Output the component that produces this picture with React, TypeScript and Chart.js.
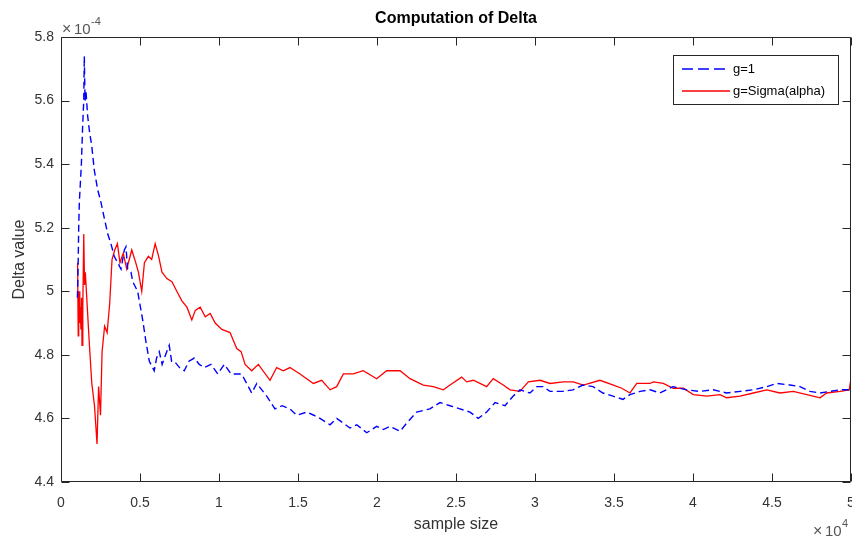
import React, { useEffect, useRef } from "react";
import { Chart, registerables } from "chart.js";

Chart.register(...registerables);

const chartTitle = "Computation of Delta";
const xAxisTitle = "sample size";
const yAxisTitle = "Delta value";
const seriesNames = ["g=1", "g=Sigma(alpha)"];

// x: sample size, y: Delta value in units of 1e-4
const xTickValues = [0, 5000, 10000, 15000, 20000, 25000, 30000, 35000, 40000, 45000, 50000];
const yTickValues = [4.4, 4.6, 4.8, 5.0, 5.2, 5.4, 5.6, 5.8];

const blueSampleSize = [
  1040, 1090, 1120, 1160, 1290, 1370, 1440, 1475, 1520, 1580, 1690, 1810, 1940, 2110, 2320, 2530, 2740,
  2960, 3160, 3370, 3690, 3800, 4010, 4110, 4220, 4430, 4540, 4850, 5170, 5380, 5590, 5900, 6050,
  6220, 6400, 6540, 6850, 7000, 7170, 7500, 7800, 8100, 8440, 8750, 9070, 9490, 9920, 10340, 10760,
  11390, 11540, 12070, 12390, 13020, 13540, 14000, 14490, 14920, 15550, 16000, 16390, 17030, 17450,
  18290, 18720, 19350, 19980, 20400, 20820, 21460, 21880, 22510, 23350, 23990, 24620, 25250, 25890,
  26410, 26940, 27470, 28100, 28610, 29050, 29680, 30110, 30510, 30950, 31770, 32410, 33040, 33670,
  34300, 34940, 35570, 36010, 36650, 37280, 37910, 38730, 39600, 40440, 41270, 42130, 42980, 43800,
  44670, 45300, 46140, 46770, 47410, 48040, 48670, 49300, 50000,
];
const blueDelta = [
  4.98, 5.1, 5.2, 5.28, 5.4, 5.52, 5.6, 5.74, 5.6, 5.63, 5.55, 5.5, 5.46, 5.38, 5.32, 5.28, 5.23,
  5.18, 5.15, 5.11, 5.08, 5.07, 5.13, 5.14, 5.07, 5.06, 5.03, 5.0, 4.91, 4.84, 4.78, 4.75, 4.79,
  4.81, 4.77, 4.79, 4.83, 4.78, 4.78, 4.76, 4.75, 4.78, 4.79, 4.77, 4.76, 4.77, 4.74, 4.77, 4.74,
  4.74, 4.73, 4.68, 4.71, 4.67, 4.63, 4.64, 4.63, 4.61, 4.62, 4.61, 4.6, 4.58, 4.6,
  4.57, 4.58, 4.555, 4.575, 4.565, 4.575, 4.56, 4.585, 4.62, 4.63, 4.65, 4.64, 4.63, 4.62,
  4.6, 4.62, 4.65, 4.64, 4.67, 4.69, 4.68, 4.7, 4.7, 4.685, 4.685, 4.69, 4.705, 4.7,
  4.68, 4.67, 4.66, 4.675, 4.685, 4.69, 4.68, 4.7, 4.69, 4.685, 4.69, 4.68, 4.685, 4.69,
  4.7, 4.71, 4.705, 4.7, 4.685, 4.68, 4.685, 4.69, 4.69,
];

const redSampleSize = [
  1050, 1090, 1120, 1160, 1190, 1220, 1260, 1300, 1330, 1380, 1440, 1490, 1540, 1640, 1800, 1950, 2120,
  2280, 2380, 2500, 2600, 2760,
  2920, 3080, 3230, 3400, 3570, 3730, 3940, 4160, 4480, 4730, 4900, 5110, 5280, 5530, 5740, 5960,
  6180, 6390, 6700, 7020, 7330, 7650, 7970, 8280, 8500, 8810, 9130, 9440, 9760, 10180, 10700, 11120,
  11400, 11650, 12070, 12490, 13230, 13650, 14070, 14490, 15130, 15970, 16500, 17030, 17450, 17870,
  18500, 19130, 19980, 20610, 21460, 22090, 22930, 23560, 24200, 24620, 25360, 25680, 26100, 26940,
  27360, 27990, 28420, 29050, 29580, 30320, 30950, 31790, 32420, 33060, 34110, 34960, 35490, 36010,
  36440, 37280, 37490, 38120, 38750, 39390, 40020, 40870, 41710, 42130, 42980, 43820, 44670, 45510,
  46350, 47200, 48040, 48460, 49300, 49890, 49980,
];
const redDelta = [
  5.09, 4.86, 4.98, 5.0, 4.9, 4.95, 4.88, 4.98, 4.83, 4.95, 5.18, 5.02, 5.06, 4.97, 4.83, 4.71, 4.64,
  4.52, 4.7, 4.61, 4.81, 4.89,
  4.87, 4.96, 5.1, 5.13, 5.15, 5.09, 5.12, 5.07, 5.13, 5.09, 5.06, 5.0, 5.09, 5.11, 5.1, 5.15,
  5.11, 5.06, 5.04, 5.03, 5.0, 4.97, 4.95, 4.91, 4.94, 4.95, 4.92, 4.93, 4.9, 4.88, 4.87, 4.82,
  4.81, 4.77, 4.75, 4.77, 4.72, 4.76, 4.75, 4.76, 4.74, 4.71, 4.72, 4.69, 4.7, 4.74,
  4.74, 4.75, 4.725, 4.75, 4.75, 4.725, 4.705, 4.7, 4.69, 4.705, 4.73, 4.715, 4.72, 4.7,
  4.725, 4.705, 4.69, 4.685, 4.715, 4.72, 4.71, 4.715, 4.715, 4.705, 4.72, 4.705, 4.695, 4.68,
  4.71, 4.71, 4.715, 4.71, 4.695, 4.695, 4.675, 4.67, 4.675, 4.665, 4.67, 4.68, 4.69, 4.68,
  4.685, 4.675, 4.665, 4.68, 4.685, 4.69, 4.72,
];

const AXIS = "#262626";
const TEXT = "#333333";
const FONT = "'Liberation Sans', Arial, sans-serif";

const decorPlugin = {
  id: "decor",
  afterDatasetsDraw(chart: any) {
    const { ctx, chartArea: a, scales } = chart;
    const xs = scales.x;
    const ys = scales.y;
    const L = Math.round(a.left) + 0.5;
    const R = Math.round(a.right) - 0.5;
    const T = Math.round(a.top) + 0.5;
    const B = Math.round(a.bottom) - 0.5;
    ctx.save();
    ctx.strokeStyle = AXIS;
    ctx.lineWidth = 1;
    ctx.setLineDash([]);
    ctx.beginPath();
    ctx.moveTo(L, T);
    ctx.lineTo(R, T);
    ctx.lineTo(R, B);
    ctx.lineTo(L, B);
    ctx.closePath();
    ctx.stroke();
    const tl = 8;
    ctx.beginPath();
    xTickValues.forEach((v) => {
      const px = Math.round(xs.getPixelForValue(v)) + 0.5;
      ctx.moveTo(px, B);
      ctx.lineTo(px, B - tl);
      ctx.moveTo(px, T);
      ctx.lineTo(px, T + tl);
    });
    yTickValues.forEach((v) => {
      const py = Math.round(ys.getPixelForValue(v)) + 0.5;
      ctx.moveTo(L, py);
      ctx.lineTo(L + tl, py);
      ctx.moveTo(R, py);
      ctx.lineTo(R - tl, py);
    });
    ctx.stroke();

    // legend
    const lx = 673.5, ly = 55.5, lw = 165, lh = 49;
    ctx.fillStyle = "#ffffff";
    ctx.fillRect(lx, ly, lw, lh);
    ctx.strokeStyle = AXIS;
    ctx.strokeRect(lx, ly, lw, lh);

    ctx.lineWidth = 1.5;
    ctx.strokeStyle = "rgb(0,0,255)";
    ctx.setLineDash([11, 5]);
    ctx.beginPath();
    ctx.moveTo(682, 69);
    ctx.lineTo(730, 69);
    ctx.stroke();
    ctx.setLineDash([]);
    ctx.strokeStyle = "rgb(255,0,0)";
    ctx.beginPath();
    ctx.moveTo(682, 91);
    ctx.lineTo(730, 91);
    ctx.stroke();

    ctx.fillStyle = "#000000";
    ctx.font = `13px ${FONT}`;
    ctx.textAlign = "left";
    ctx.textBaseline = "middle";
    ctx.fillText(seriesNames[0], 733, 69);
    ctx.fillText(seriesNames[1], 733, 91);

    // title
    ctx.fillStyle = "#000000";
    ctx.font = `bold 16px ${FONT}`;
    ctx.textAlign = "center";
    ctx.fillText(chartTitle, (a.left + a.right) / 2, 19);

    // axis titles
    ctx.fillStyle = TEXT;
    ctx.font = `16px ${FONT}`;
    ctx.fillText(xAxisTitle, (a.left + a.right) / 2, 525);
    ctx.save();
    ctx.translate(20, (a.top + a.bottom) / 2);
    ctx.rotate(-Math.PI / 2);
    ctx.fillText(yAxisTitle, 0, 0);
    ctx.restore();

    // exponent labels
    ctx.textAlign = "left";
    ctx.textBaseline = "alphabetic";
    ctx.fillStyle = "#555555";
    ctx.font = `16px ${FONT}`;
    ctx.fillText("\u00d7", 62, 34);
    ctx.font = `15px ${FONT}`;
    ctx.fillText("10", 74, 34);
    ctx.font = `11px ${FONT}`;
    ctx.fillText("-4", 91, 25);

    ctx.font = `16px ${FONT}`;
    ctx.fillText("\u00d7", 813, 536);
    ctx.font = `15px ${FONT}`;
    ctx.fillText("10", 825, 536);
    ctx.font = `11px ${FONT}`;
    ctx.fillText("4", 842, 527);
    ctx.restore();
  },
};

export default function App() {
  const ref = useRef<HTMLCanvasElement | null>(null);
  useEffect(() => {
    if (!ref.current) return;
    const chart = new Chart(ref.current, {
      type: "line",
      data: {
        datasets: [
          {
            label: seriesNames[0],
            data: blueSampleSize.map((x, i) => ({ x, y: blueDelta[i] })),
            borderColor: "#0000ff",
            borderWidth: 1.4,
            borderDash: [7, 4],
            pointRadius: 0,
            tension: 0,
            fill: false,
          },
          {
            label: seriesNames[1],
            data: redSampleSize.map((x, i) => ({ x, y: redDelta[i] })),
            borderColor: "#ff0000",
            borderWidth: 1.3,
            pointRadius: 0,
            tension: 0,
            fill: false,
          },
        ],
      },
      options: {
        animation: false,
        responsive: false,
        devicePixelRatio: 1,
        layout: { padding: { top: 37, right: 1, left: 0, bottom: 0 } },
        plugins: {
          legend: { display: false },
          title: { display: false },
          tooltip: { enabled: false },
        },
        scales: {
          x: {
            type: "linear",
            min: 0,
            max: 50000,
            afterFit: (s: any) => {
              s.height = 57;
              s.paddingLeft = 0;
              s.paddingRight = 0;
            },
            afterBuildTicks: (s: any) => {
              s.ticks = xTickValues.map((value) => ({ value }));
            },
            ticks: {
              callback: (v: any) => String(Math.round((Number(v) / 10000) * 10) / 10),
              font: { family: FONT, size: 14 },
              color: TEXT,
              padding: 13,
              maxRotation: 0,
              autoSkip: false,
            },
            grid: { display: false, drawTicks: false },
            border: { display: false },
          },
          y: {
            type: "linear",
            min: 4.4,
            max: 5.8,
            afterFit: (s: any) => {
              s.width = 61;
              s.paddingTop = 0;
              s.paddingBottom = 0;
            },
            afterBuildTicks: (s: any) => {
              s.ticks = yTickValues.map((value) => ({ value }));
            },
            ticks: {
              callback: (v: any) => String(Math.round(Number(v) * 10) / 10),
              font: { family: FONT, size: 14 },
              color: TEXT,
              padding: 7,
              autoSkip: false,
            },
            grid: { display: false, drawTicks: false },
            border: { display: false },
          },
        },
      },
      plugins: [decorPlugin],
    } as any);
    return () => chart.destroy();
  }, []);
  return (
    <div style={{ position: "absolute", left: 0, top: 0, width: 852, height: 539, background: "#fff" }}>
      <canvas ref={ref} width={852} height={539} style={{ width: 852, height: 539, display: "block" }} />
    </div>
  );
}
